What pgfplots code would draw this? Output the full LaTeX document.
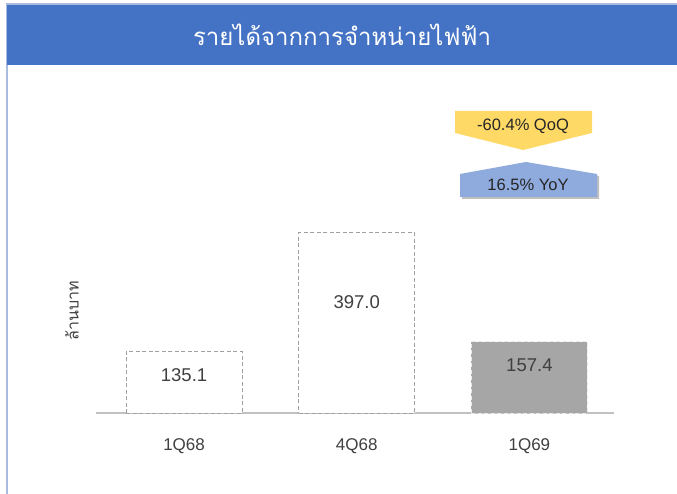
\documentclass[border=0pt]{standalone}
\usepackage{pgfplots}
\pgfplotsset{compat=1.18}
\usepackage{fontspec}
\setmainfont{Liberation Sans}
\newfontfamily\thaifont[Script=Thai]{Loma}
\definecolor{banner}{HTML}{4472C4}
\definecolor{framec}{HTML}{A9BCE0}
\definecolor{barline}{HTML}{A0A0A0}
\definecolor{barfill}{HTML}{A6A6A6}
\definecolor{txt}{HTML}{404040}
\definecolor{qoq}{HTML}{FFD966}
\definecolor{yoy}{HTML}{8FAADC}

\begin{document}
\begin{tikzpicture}
\useasboundingbox (0,0) rectangle (677pt,494pt);
\fill[white] (0,0) rectangle (677pt,494pt);
% frame and title banner
\draw[framec, line width=1.5pt] (7pt,0) -- (7pt,490pt) -- (677pt,490pt);
\fill[banner] (7pt,429pt) rectangle (677pt,489pt);
\node[white, font=\thaifont\fontsize{24}{28}\selectfont] at (342pt,459pt) {รายได้จากการจำหน่ายไฟฟ้า};

\begin{axis}[
    at={(96pt,81pt)}, anchor=south west,
    scale only axis, width=518pt, height=313pt,
    xmin=-0.51, xmax=2.49, ymin=0, ymax=690,
    axis x line*=bottom, axis y line*=left,
    y axis line style={draw=none},
    x axis line style={draw=barfill!70, line width=1.2pt},
    ytick=\empty,
    xtick={0,1,2}, xticklabels={1Q68,4Q68,1Q69},
    major tick length=0pt,
    xticklabel style={font=\fontsize{17}{20}\selectfont, text=txt, yshift=-22pt},
    ybar, bar width=116pt, bar shift=0pt,
    clip=false,
]
\addplot[draw=barline, dash pattern=on 4pt off 2.5pt, line width=0.9pt, fill=white]
    coordinates {(0,135.1) (1,397.0)};
\addplot[draw=white!75!barfill, dash pattern=on 4pt off 2.5pt, line width=0.9pt, fill=barfill]
    coordinates {(2,157.4)};
\node[text=txt, font=\fontsize{18.5}{22}\selectfont] at (axis cs:0,84) {135.1};
\node[text=txt, font=\fontsize{18.5}{22}\selectfont] at (axis cs:1,245) {397.0};
\node[text=txt, font=\fontsize{18.5}{22}\selectfont] at (axis cs:2,106) {157.4};
\end{axis}

% y label
\node[rotate=90, text=txt, font=\thaifont\fontsize{16}{19}\selectfont] at (72pt,183pt) {ล้านบาท};

% QoQ / YoY callouts
\fill[qoq] (455pt,383pt) -- (592pt,383pt) -- (592pt,361pt) -- (523pt,344pt) -- (455pt,361pt) -- cycle;
\node[text=black!85, font=\fontsize{16.5}{19}\selectfont] at (523pt,368pt) {-60.4\% QoQ};
\fill[black, opacity=0.25] (528pt,330pt) -- (599pt,318pt) -- (599pt,295pt) -- (462pt,295pt) -- (462pt,318pt) -- cycle;
\fill[yoy] (526pt,332pt) -- (597pt,320pt) -- (597pt,297pt) -- (460pt,297pt) -- (460pt,320pt) -- cycle;
\node[text=black!85, font=\fontsize{16.5}{19}\selectfont] at (528pt,309pt) {16.5\% YoY};
\end{tikzpicture}
\end{document}
